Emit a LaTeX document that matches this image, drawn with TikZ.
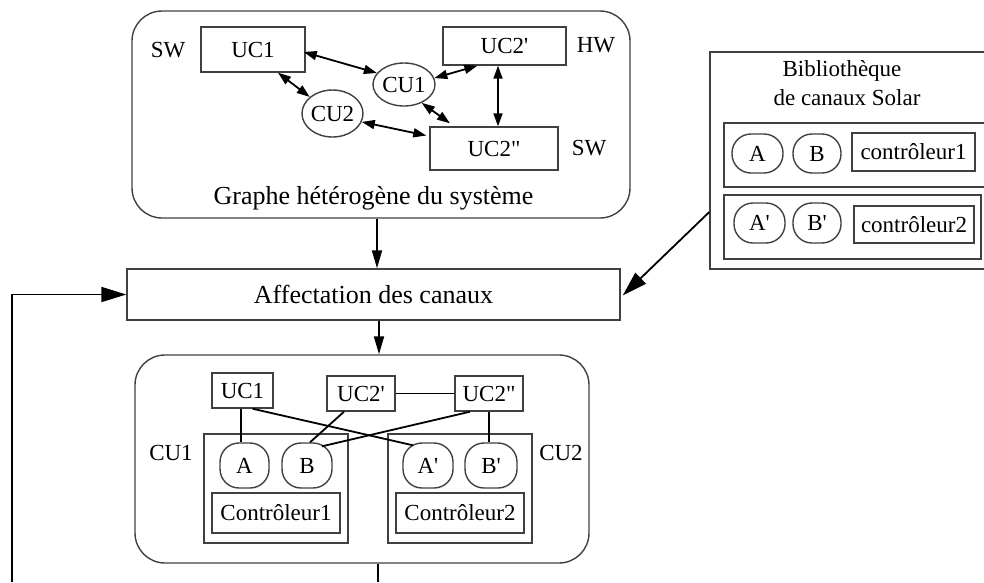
\documentclass[tikz,border=0pt]{standalone}
\usepackage{fontspec}
\setmainfont{Liberation Serif}
\usetikzlibrary{arrows.meta,shapes.geometric,calc}
\newcommand\ftsmall{\fontsize{23}{27}\selectfont}
\newcommand\ftbig{\fontsize{26}{30}\selectfont}
\newcommand\pr{\textquotesingle}
\newcommand\dpr{\textquotedbl}
\begin{document}
\begin{tikzpicture}[x=1pt,y=-1pt,
  frame/.style={draw=black!75,line width=1.4pt,rectangle,rounded corners=30pt,inner sep=0pt},
  ubox/.style={draw=black!75,line width=1.4pt,rectangle,inner sep=0pt,font=\ftsmall},
  uell/.style={draw=black!75,line width=1.4pt,ellipse,inner sep=0pt,font=\ftsmall},
  chan/.style={draw=black!75,line width=1.4pt,rectangle,rounded corners=19pt,inner sep=0pt,font=\ftsmall},
  lbl/.style={anchor=base,inner sep=0pt,font=\ftsmall},
  conn/.style={line width=1.8pt},
  dbl/.style={conn,{Triangle[length=13pt,width=9pt]}-{Triangle[length=13pt,width=9pt]}},
  arr/.style={conn,-{Triangle[length=18pt,width=10pt]}},
  bigarr/.style={conn,-{Triangle[length=25pt,width=15pt]}}
]
\useasboundingbox (0,0) rectangle (984,582);

% ---------- top frame : heterogeneous graph ----------
\node[frame,minimum width=498pt,minimum height=207pt] (top) at (381,114.5) {};
\node[ubox,minimum width=104pt,minimum height=45pt] (UC1) at (253,49.5) {UC1};
\node[ubox,minimum width=123pt,minimum height=38pt] (UC2p) at (504.5,46) {UC2\pr};
\node[ubox,minimum width=128pt,minimum height=43pt] (UC2pp) at (494,148.5) {UC2\dpr};
\node[uell,minimum width=62pt,minimum height=43pt] (CU1) at (404,84.5) {\makebox[0pt]{CU1}};
\node[uell,minimum width=61pt,minimum height=47pt] (CU2) at (332.5,113.5) {\makebox[0pt]{CU2}};
\node[lbl] (swA) at (168,57) {SW};
\node[lbl] (hw) at (596,52) {HW};
\node[lbl] (swB) at (589,155) {SW};
\node[lbl,font=\ftbig] (cap) at (373.5,204) {Graphe hétérogène du système};

\draw[dbl] ($(UC1.east)+(-2,2.5)$) -- (CU1.157);
\draw[dbl] (CU1.12) -- (UC2p.216);
\draw[dbl] ($(UC2p.south)+(-6.5,0)$) -- ($(UC2pp.north)+(4,0)$);
\draw[dbl] ($(UC1.south)+(25,0)$) -- (CU2.144);
\draw[dbl] (CU1.314) -- ($(UC2pp.north)+(-44,-3)$);
\draw[dbl] (CU2.344) -- ($(UC2pp.west)+(-3,-13)$);

% ---------- channel library ----------
\node[frame,rounded corners=0pt,minimum width=275pt,minimum height=217pt] (lib) at (847.5,160.5) {};
\node[lbl] (libt1) at (842,76) {Bibliothèque};
\node[lbl] (libt2) at (847,105) {de canaux Solar};
\node[frame,rounded corners=0pt,minimum width=261pt,minimum height=64pt] (lb1) at (854.5,155) {};
\node[frame,rounded corners=0pt,minimum width=257pt,minimum height=64pt] (lb2) at (852.5,227) {};
\node[chan,minimum width=51pt,minimum height=39pt] (lA) at (757.5,153.5) {A};
\node[chan,minimum width=48pt,minimum height=39pt] (lB) at (817,153.5) {B};
\node[ubox,minimum width=123pt,minimum height=38pt] (lc1) at (913.5,152) {contrôleur1};
\node[chan,minimum width=51pt,minimum height=40pt] (lAp) at (759.5,223) {A\pr};
\node[chan,minimum width=48pt,minimum height=40pt] (lBp) at (817,223) {B\pr};
\node[ubox,minimum width=120pt,minimum height=37pt] (lc2) at (914,224.5) {contrôleur2};

% ---------- channel allocation ----------
\node[ubox,font=\ftbig,minimum width=493pt,minimum height=51pt] (aff) at (373.5,294.5) {Affectation des canaux};

\draw[arr] ($(top.south)+(-4,0)$) -- ($(aff.north)+(3.5,0)$);
\draw[bigarr] ($(lib.west)+(0,51.5)$) -- ($(aff.east)+(2,1)$);
\coordinate (fb) at (12,582);
\draw[bigarr] (fb) |- (aff.west);

% ---------- lower frame : result ----------
\node[frame,minimum width=454pt,minimum height=208pt] (low) at (362,459) {};
\draw[arr] ($(aff.south)+(5.5,0)$) -- ($(low.north)+(17,0)$);
\coordinate (out) at (378,582);
\draw[conn] ($(low.south)+(16,0)$) -- (out);

\node[ubox,minimum width=61pt,minimum height=35pt] (bUC1) at (242.5,390.5) {UC1};
\node[ubox,minimum width=68pt,minimum height=35pt] (bUC2p) at (361,393.5) {UC2\pr};
\node[ubox,minimum width=68pt,minimum height=35pt] (bUC2pp) at (489,393.5) {UC2\dpr};
\node[frame,rounded corners=0pt,minimum width=144pt,minimum height=109pt] (cu1box) at (276,488.5) {};
\node[frame,rounded corners=0pt,minimum width=144pt,minimum height=109pt] (cu2box) at (460,488.5) {};
\node[lbl] (cu1l) at (171,460) {CU1};
\node[lbl] (cu2l) at (561,460) {CU2};
\node[chan,minimum width=49pt,minimum height=45pt] (bA) at (244.5,465.5) {A};
\node[chan,minimum width=50pt,minimum height=45pt] (bB) at (307,465.5) {B};
\node[chan,minimum width=50pt,minimum height=45pt] (bAp) at (428,465.5) {A\pr};
\node[chan,minimum width=52pt,minimum height=45pt] (bBp) at (491,465.5) {B\pr};
\node[ubox,minimum width=128pt,minimum height=40pt] (ctl1) at (276,513) {Contrôleur1};
\node[ubox,minimum width=128pt,minimum height=40pt] (ctl2) at (460,513) {Contrôleur2};

\draw[conn] ($(bUC1.south)+(-1.5,0)$) -- ($(bA.north)+(-3.5,0)$);
\draw[conn] ($(bUC1.south)+(10,0)$) -- ($(bAp.north)+(-15,3)$);
\draw[conn] ($(bUC2p.south)+(-17,0)$) -- ($(bB.north)+(3,0)$);
\draw[conn] ($(bUC2pp.south)+(-19,0)$) -- ($(bB.north)+(15,4)$);
\draw[conn] (bUC2pp.south) -- ($(bBp.north)+(-2,0)$);
\draw[conn] (bUC2p.east) -- (bUC2pp.west);
\end{tikzpicture}
\end{document}
